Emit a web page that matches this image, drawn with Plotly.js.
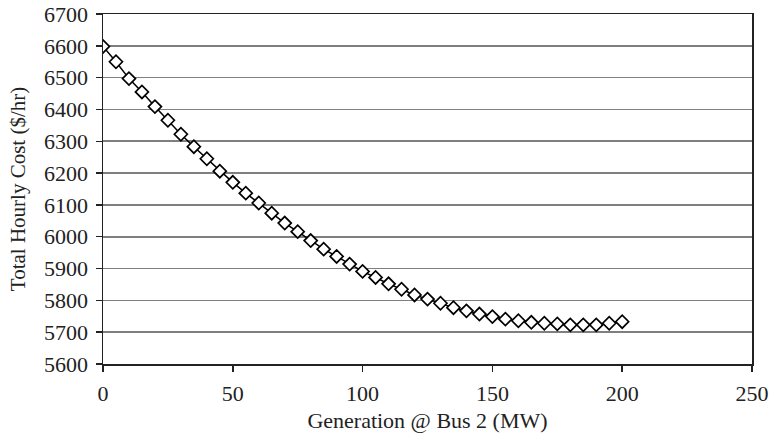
<!DOCTYPE html>
<html>
<head>
<meta charset="utf-8">
<script src="https://cdn.plot.ly/plotly-3.0.1.min.js"></script>
<style>html,body{margin:0;padding:0;background:#fff;}#chart{width:771px;height:433px;}</style>
</head>
<body>
<div id="chart"></div>
<script>
var generationMW = [0,5,10,15,20,25,30,35,40,45,50,55,60,65,70,75,80,85,90,95,100,105,110,115,120,125,130,135,140,145,150,155,160,165,170,175,180,185,190,195,200];
var hourlyCost = [6598,6550,6497,6455,6409,6366,6322,6283,6245,6206,6171,6137,6106,6074,6043,6016,5988,5961,5938,5914,5891,5872,5852,5835,5817,5804,5791,5777,5767,5757,5749,5741,5736,5731,5728,5726,5723,5723,5723,5728,5733];
var xTicks = [0,50,100,150,200,250];
var yTicks = [5600,5700,5800,5900,6000,6100,6200,6300,6400,6500,6600,6700];

var font = 'Liberation Serif, Times New Roman, serif';
var trace = {
  x: generationMW, y: hourlyCost, type: 'scatter', mode: 'lines+markers',
  line: {color: '#000', width: 1.5},
  marker: {symbol: 'diamond', size: 10, color: '#fff', line: {color: '#000', width: 1.7}},
  showlegend: false, hoverinfo: 'none'
};
var layout = {
  width: 771, height: 433,
  margin: {l: 103, r: 19, t: 14, b: 69},
  paper_bgcolor: '#fff', plot_bgcolor: '#fff',
  font: {family: font, color: '#222', size: 22},
  xaxis: {
    range: [0, 250], tickvals: xTicks, ticktext: xTicks.map(String),
    showgrid: false, zeroline: false, showline: true, linecolor: '#222', linewidth: 1.5, mirror: true,
    ticks: 'outside', ticklen: 6, tickwidth: 1.5, tickcolor: '#222', ticklabelstandoff: 3,
    tickfont: {family: font, size: 22, color: '#222'},
    title: {text: 'Generation @ Bus 2 (MW)', font: {family: font, size: 22, color: '#222'}, standoff: 10}
  },
  yaxis: {
    range: [5600, 6700], tickvals: yTicks, ticktext: yTicks.map(String),
    showgrid: true, gridcolor: '#7f7f7f', gridwidth: 1.6, zeroline: false,
    showline: true, linecolor: '#222', linewidth: 1.5, mirror: true,
    ticks: 'outside', ticklen: 6, tickwidth: 1.5, tickcolor: '#222', ticklabelstandoff: 3,
    tickfont: {family: font, size: 22, color: '#222'},
    title: {text: 'Total Hourly Cost ($/hr)', font: {family: font, size: 21, color: '#222'}, standoff: 12}
  }
};
Plotly.newPlot('chart', [trace], layout, {staticPlot: true, displayModeBar: false});
</script>
</body>
</html>
